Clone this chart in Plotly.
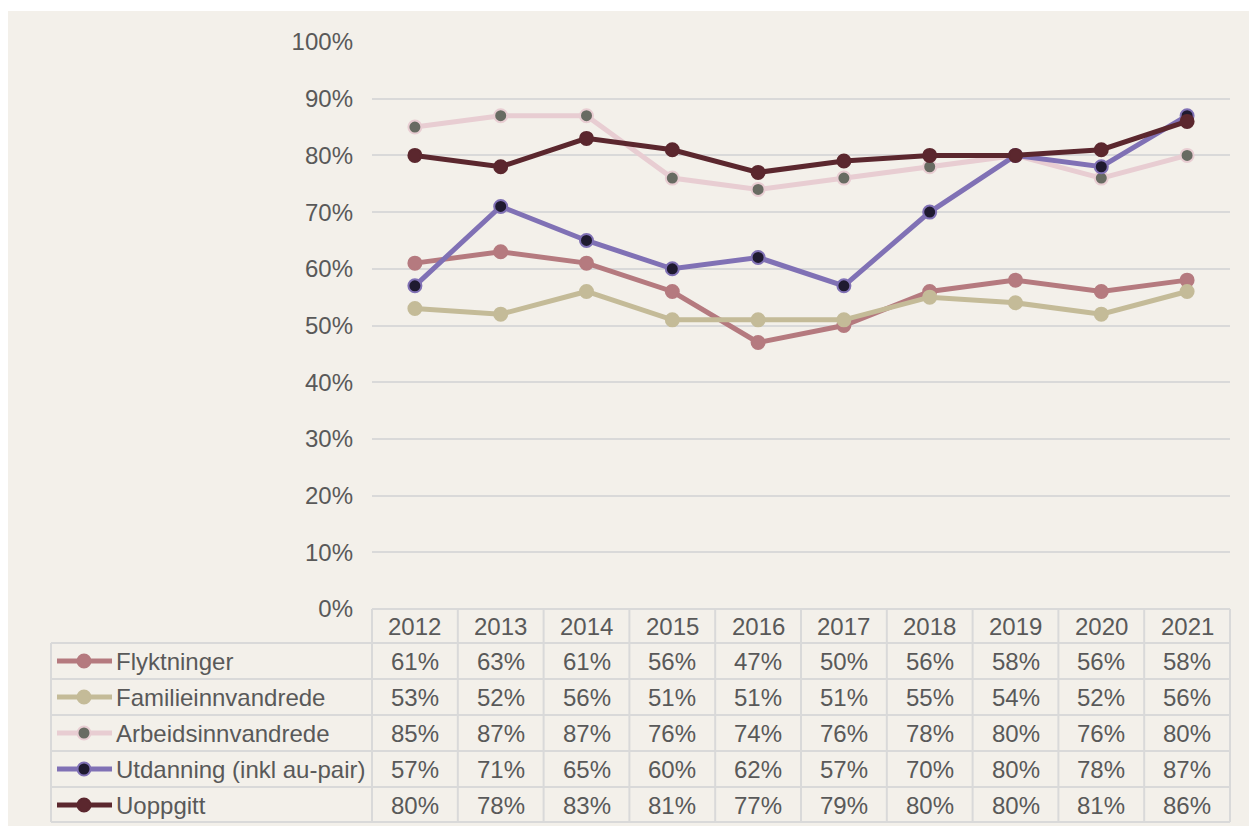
import plotly.graph_objects as go

years = ["2012", "2013", "2014", "2015", "2016", "2017", "2018", "2019", "2020", "2021"]
series_names = ["Flyktninger", "Familieinnvandrede", "Arbeidsinnvandrede",
                "Utdanning (inkl au-pair)", "Uoppgitt"]
flyktninger = [61, 63, 61, 56, 47, 50, 56, 58, 56, 58]
familie = [53, 52, 56, 51, 51, 51, 55, 54, 52, 56]
arbeid = [85, 87, 87, 76, 74, 76, 78, 80, 76, 80]
utdanning = [57, 71, 65, 60, 62, 57, 70, 80, 78, 87]
uoppgitt = [80, 78, 83, 81, 77, 79, 80, 80, 81, 86]
all_values = [flyktninger, familie, arbeid, utdanning, uoppgitt]

line_colors = ["#b57a7f", "#c4bb98", "#e8cdd2", "#8071b5", "#5b272e"]
marker_fill = ["#b57a7f", "#c4bb98", "#686b62", "#1f1a30", "#5b272e"]

OFF = 8  # page body margin
PW, PH = 1257, 826
W, H = PW - OFF, PH - OFF
L, R, T, B = 372, 1230, 42, 609  # page pixel coordinates of plot area
BG = "#f3f0ea"
GRID = "#d9d9d9"
TXT = "#595959"
FONT = "Liberation Sans, Arial, sans-serif"
FS = 24


def py(p):
    return (B - p) / (B - T)


def px(p):
    return (p - L) / (R - L)


fig = go.Figure()
for name, vals, lc, mf in zip(series_names, all_values, line_colors, marker_fill):
    fig.add_trace(go.Scatter(
        x=list(range(len(years))), y=[v / 100 for v in vals], mode="lines+markers",
        name=name, line=dict(color=lc, width=5),
        marker=dict(size=13, color=mf, line=dict(color=lc, width=2)),
        showlegend=False))

shapes = []
# white outer strip at top (page y 8..11)
shapes.append(dict(type="rect", xref="paper", yref="paper", x0=px(OFF - 1), x1=px(PW + 1), y0=py(11), y1=py(OFF - 1),
                   fillcolor="white", line=dict(width=0), layer="below"))

row_tops = [643, 679, 715, 751, 787]
row_bottom = 822
col_w = (R - L) / len(years)
gl = dict(color=GRID, width=2)
shapes.append(dict(type="line", xref="paper", yref="paper", x0=px(L), x1=px(R), y0=py(B), y1=py(B), line=gl))
for yb in row_tops + [row_bottom]:
    shapes.append(dict(type="line", xref="paper", yref="paper", x0=px(51), x1=px(R), y0=py(yb), y1=py(yb), line=gl))
for k in range(len(years) + 1):
    xx = L + k * col_w
    shapes.append(dict(type="line", xref="paper", yref="paper", x0=px(xx), x1=px(xx), y0=py(B), y1=py(row_bottom), line=gl))
shapes.append(dict(type="line", xref="paper", yref="paper", x0=px(51), x1=px(51), y0=py(643), y1=py(row_bottom), line=gl))

annotations = []
for i, yr in enumerate(years):
    annotations.append(dict(x=i, y=py(626), xref="x", yref="paper", text=yr, showarrow=False,
                            font=dict(size=FS, color=TXT, family=FONT), xanchor="center", yanchor="middle"))

for r, (name, vals, lc, mf) in enumerate(zip(series_names, all_values, line_colors, marker_fill)):
    yc = row_tops[r] + 18
    shapes.append(dict(type="line", xref="paper", yref="paper", x0=px(57), x1=px(112), y0=py(yc), y1=py(yc),
                       line=dict(color=lc, width=5)))
    shapes.append(dict(type="circle", xref="paper", yref="paper", xsizemode="pixel", ysizemode="pixel",
                       xanchor=px(84), yanchor=py(yc), x0=-6.5, x1=6.5, y0=-6.5, y1=6.5,
                       fillcolor=mf, line=dict(color=lc, width=2)))
    annotations.append(dict(x=px(114), y=py(yc), xref="paper", yref="paper", text=name, showarrow=False,
                            font=dict(size=FS, color=TXT, family=FONT), xanchor="left", yanchor="middle"))
    for i, v in enumerate(vals):
        annotations.append(dict(x=i, y=py(yc), xref="x", yref="paper", text=f"{v}%", showarrow=False,
                                font=dict(size=FS, color=TXT, family=FONT), xanchor="center", yanchor="middle"))

fig.update_layout(
    width=W, height=H,
    margin=dict(l=L - OFF, r=PW - R, t=T - OFF, b=PH - B, pad=0),
    paper_bgcolor=BG, plot_bgcolor=BG,
    font=dict(family=FONT, size=FS, color=TXT),
    shapes=shapes, annotations=annotations,
    xaxis=dict(range=[-0.5, 9.5], showgrid=False, zeroline=False, showline=False,
               showticklabels=False, fixedrange=True),
    yaxis=dict(range=[0, 1], dtick=0.1, tickformat=".0%", showgrid=True, gridcolor=GRID, gridwidth=2,
               zeroline=False, showline=False, ticks="", ticklabelstandoff=18,
               tickfont=dict(size=FS, color=TXT, family=FONT)),
)

fig.write_html("out.html")
